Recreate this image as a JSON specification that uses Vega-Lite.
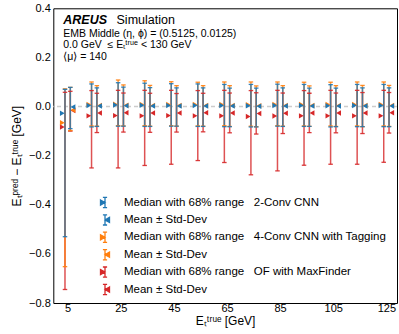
{
  "$schema": "https://vega.github.io/schema/vega-lite/v6.json",
  "width": 343.7,
  "height": 294.7,
  "autosize": {"type": "none"},
  "padding": {"left": 53.3, "top": 8.3, "right": 2, "bottom": 31},
  "background": "white",
  "config": {
    "view": {"stroke": null},
    "font": "Liberation Sans",
    "axis": {
      "domainColor": "black", "tickColor": "black", "labelColor": "black", "titleColor": "black",
      "grid": false, "labelFont": "Liberation Sans", "labelFontSize": 11, "titleFont": "Liberation Sans",
      "titleFontSize": 12, "titleFontWeight": "normal", "domainWidth": 1, "tickWidth": 1,
      "labelOverlap": false, "labelFlush": false, "labelBound": false
    }
  },
  "datasets": {
    "pts": [
      {"m": "r", "s": "med", "x": 4, "y": -0.083, "lo": -0.745, "hi": 0.058},
      {"m": "r", "s": "med", "x": 14, "y": -0.038, "lo": -0.25, "hi": 0.065},
      {"m": "r", "s": "med", "x": 24, "y": -0.037, "lo": -0.25, "hi": 0.066},
      {"m": "r", "s": "med", "x": 34, "y": -0.038, "lo": -0.24, "hi": 0.066},
      {"m": "r", "s": "med", "x": 44, "y": -0.037, "lo": -0.235, "hi": 0.066},
      {"m": "r", "s": "med", "x": 54, "y": -0.038, "lo": -0.22, "hi": 0.065},
      {"m": "r", "s": "med", "x": 64, "y": -0.038, "lo": -0.228, "hi": 0.066},
      {"m": "r", "s": "med", "x": 74, "y": -0.041, "lo": -0.278, "hi": 0.065},
      {"m": "r", "s": "med", "x": 84, "y": -0.039, "lo": -0.262, "hi": 0.066},
      {"m": "r", "s": "med", "x": 94, "y": -0.038, "lo": -0.239, "hi": 0.065},
      {"m": "r", "s": "med", "x": 104, "y": -0.038, "lo": -0.235, "hi": 0.066},
      {"m": "r", "s": "med", "x": 114, "y": -0.038, "lo": -0.235, "hi": 0.066},
      {"m": "r", "s": "med", "x": 124, "y": -0.038, "lo": -0.227, "hi": 0.066},
      {"m": "r", "s": "mean", "x": 6, "y": -0.016, "lo": -0.1, "hi": 0.062},
      {"m": "r", "s": "mean", "x": 16, "y": -0.026, "lo": -0.106, "hi": 0.054},
      {"m": "r", "s": "mean", "x": 26, "y": -0.025, "lo": -0.104, "hi": 0.055},
      {"m": "r", "s": "mean", "x": 36, "y": -0.026, "lo": -0.105, "hi": 0.054},
      {"m": "r", "s": "mean", "x": 46, "y": -0.026, "lo": -0.104, "hi": 0.053},
      {"m": "r", "s": "mean", "x": 56, "y": -0.025, "lo": -0.103, "hi": 0.054},
      {"m": "r", "s": "mean", "x": 66, "y": -0.026, "lo": -0.107, "hi": 0.055},
      {"m": "r", "s": "mean", "x": 76, "y": -0.028, "lo": -0.112, "hi": 0.056},
      {"m": "r", "s": "mean", "x": 86, "y": -0.027, "lo": -0.11, "hi": 0.055},
      {"m": "r", "s": "mean", "x": 96, "y": -0.026, "lo": -0.106, "hi": 0.054},
      {"m": "r", "s": "mean", "x": 106, "y": -0.026, "lo": -0.107, "hi": 0.055},
      {"m": "r", "s": "mean", "x": 116, "y": -0.026, "lo": -0.11, "hi": 0.057},
      {"m": "r", "s": "mean", "x": 126, "y": -0.025, "lo": -0.108, "hi": 0.057},
      {"m": "o", "s": "med", "x": 4, "y": -0.066, "lo": -0.652, "hi": 0.072},
      {"m": "o", "s": "med", "x": 14, "y": 0.008, "lo": -0.079, "hi": 0.1},
      {"m": "o", "s": "med", "x": 24, "y": 0.009, "lo": -0.078, "hi": 0.108},
      {"m": "o", "s": "med", "x": 34, "y": 0.008, "lo": -0.078, "hi": 0.105},
      {"m": "o", "s": "med", "x": 44, "y": 0.008, "lo": -0.078, "hi": 0.101},
      {"m": "o", "s": "med", "x": 54, "y": 0.008, "lo": -0.079, "hi": 0.099},
      {"m": "o", "s": "med", "x": 64, "y": 0.008, "lo": -0.078, "hi": 0.1},
      {"m": "o", "s": "med", "x": 74, "y": 0.007, "lo": -0.08, "hi": 0.1},
      {"m": "o", "s": "med", "x": 84, "y": 0.008, "lo": -0.078, "hi": 0.1},
      {"m": "o", "s": "med", "x": 94, "y": 0.008, "lo": -0.079, "hi": 0.099},
      {"m": "o", "s": "med", "x": 104, "y": 0.008, "lo": -0.079, "hi": 0.099},
      {"m": "o", "s": "med", "x": 114, "y": 0.008, "lo": -0.079, "hi": 0.1},
      {"m": "o", "s": "med", "x": 124, "y": 0.008, "lo": -0.079, "hi": 0.1},
      {"m": "o", "s": "mean", "x": 6, "y": -0.014, "lo": -0.098, "hi": 0.078},
      {"m": "o", "s": "mean", "x": 16, "y": 0.004, "lo": -0.08, "hi": 0.085},
      {"m": "o", "s": "mean", "x": 26, "y": 0.005, "lo": -0.079, "hi": 0.088},
      {"m": "o", "s": "mean", "x": 36, "y": 0.004, "lo": -0.08, "hi": 0.086},
      {"m": "o", "s": "mean", "x": 46, "y": 0.004, "lo": -0.08, "hi": 0.085},
      {"m": "o", "s": "mean", "x": 56, "y": 0.004, "lo": -0.08, "hi": 0.085},
      {"m": "o", "s": "mean", "x": 66, "y": 0.004, "lo": -0.081, "hi": 0.085},
      {"m": "o", "s": "mean", "x": 76, "y": 0.003, "lo": -0.082, "hi": 0.084},
      {"m": "o", "s": "mean", "x": 86, "y": 0.004, "lo": -0.08, "hi": 0.085},
      {"m": "o", "s": "mean", "x": 96, "y": 0.004, "lo": -0.081, "hi": 0.084},
      {"m": "o", "s": "mean", "x": 106, "y": 0.004, "lo": -0.081, "hi": 0.085},
      {"m": "o", "s": "mean", "x": 116, "y": 0.004, "lo": -0.082, "hi": 0.086},
      {"m": "o", "s": "mean", "x": 126, "y": 0.004, "lo": -0.081, "hi": 0.086},
      {"m": "b", "s": "med", "x": 4, "y": -0.027, "lo": -0.53, "hi": 0.07},
      {"m": "b", "s": "med", "x": 14, "y": 0.004, "lo": -0.083, "hi": 0.092},
      {"m": "b", "s": "med", "x": 24, "y": 0.006, "lo": -0.08, "hi": 0.097},
      {"m": "b", "s": "med", "x": 34, "y": 0.005, "lo": -0.081, "hi": 0.095},
      {"m": "b", "s": "med", "x": 44, "y": 0.004, "lo": -0.08, "hi": 0.093},
      {"m": "b", "s": "med", "x": 54, "y": 0.004, "lo": -0.081, "hi": 0.092},
      {"m": "b", "s": "med", "x": 64, "y": 0.004, "lo": -0.082, "hi": 0.09},
      {"m": "b", "s": "med", "x": 74, "y": 0.003, "lo": -0.083, "hi": 0.09},
      {"m": "b", "s": "med", "x": 84, "y": 0.004, "lo": -0.08, "hi": 0.091},
      {"m": "b", "s": "med", "x": 94, "y": 0.004, "lo": -0.081, "hi": 0.09},
      {"m": "b", "s": "med", "x": 104, "y": 0.003, "lo": -0.083, "hi": 0.089},
      {"m": "b", "s": "med", "x": 114, "y": 0.004, "lo": -0.082, "hi": 0.09},
      {"m": "b", "s": "med", "x": 124, "y": 0.004, "lo": -0.082, "hi": 0.09},
      {"m": "b", "s": "mean", "x": 6, "y": -0.002, "lo": -0.09, "hi": 0.078},
      {"m": "b", "s": "mean", "x": 16, "y": 0.002, "lo": -0.081, "hi": 0.076},
      {"m": "b", "s": "mean", "x": 26, "y": 0.003, "lo": -0.08, "hi": 0.079},
      {"m": "b", "s": "mean", "x": 36, "y": 0.002, "lo": -0.081, "hi": 0.077},
      {"m": "b", "s": "mean", "x": 46, "y": 0.002, "lo": -0.08, "hi": 0.076},
      {"m": "b", "s": "mean", "x": 56, "y": 0.002, "lo": -0.081, "hi": 0.076},
      {"m": "b", "s": "mean", "x": 66, "y": 0.002, "lo": -0.082, "hi": 0.075},
      {"m": "b", "s": "mean", "x": 76, "y": 0.001, "lo": -0.083, "hi": 0.075},
      {"m": "b", "s": "mean", "x": 86, "y": 0.002, "lo": -0.081, "hi": 0.076},
      {"m": "b", "s": "mean", "x": 96, "y": 0.002, "lo": -0.081, "hi": 0.075},
      {"m": "b", "s": "mean", "x": 106, "y": 0.002, "lo": -0.082, "hi": 0.075},
      {"m": "b", "s": "mean", "x": 116, "y": 0.002, "lo": -0.082, "hi": 0.076},
      {"m": "b", "s": "mean", "x": 126, "y": 0.002, "lo": -0.082, "hi": 0.076}
    ]
  },
  "layer": [
    {
      "data": {"values": [{}]},
      "mark": {"type": "rule", "color": "#cccccc", "strokeDash": [4, 3], "strokeWidth": 1.5},
      "encoding": {"y": {"datum": 0, "axis": null}}
    },
    {
      "data": {"name": "pts"},
      "mark": {"type": "rule", "strokeWidth": 1.5, "opacity": 0.8},
      "encoding": {
        "x": {
          "field": "x", "type": "quantitative",
          "scale": {"domain": [-0.4, 129], "nice": false, "zero": false},
          "axis": {
            "orient": "bottom",
            "values": [0, 5, 10, 15, 20, 25, 30, 35, 40, 45, 50, 55, 60, 65, 70, 75, 80, 85, 90, 95, 100, 105, 110, 115, 120, 125],
            "format": "d",
            "labelExpr": "(datum.value - 5) % 20 == 0 ? datum.label : ''",
            "tickSize": 0, "labelPadding": -1,
            "title": "Eₜᵗʳᵘᵉ [GeV]", "titlePadding": 2,
            "encode": {"ticks": {"update": {"y2": {"signal": "(datum.value - 5) % 20 == 0 ? -5 : -2.5"}}}}
          }
        },
        "y": {
          "field": "lo", "type": "quantitative",
          "scale": {"domain": [-0.8, 0.4], "nice": false, "zero": false},
          "axis": {
            "orient": "left",
            "values": [-0.8, -0.75, -0.7, -0.65, -0.6, -0.55, -0.5, -0.45, -0.4, -0.35, -0.3, -0.25, -0.2, -0.15, -0.1, -0.05, 0, 0.05, 0.1, 0.15, 0.2, 0.25, 0.3, 0.35, 0.4],
            "format": ".1f",
            "labelExpr": "abs(round(datum.value * 100)) % 20 == 0 ? datum.label : ''",
            "tickSize": 0, "labelPadding": 3,
            "title": "Eₜᵖʳᵉᵈ − Eₜᵗʳᵘᵉ [GeV]", "titlePadding": 5,
            "encode": {"ticks": {"update": {"x2": {"signal": "abs(round(datum.value * 100)) % 20 == 0 ? 5 : 2.5"}}}}
          }
        },
        "y2": {"field": "hi"},
        "color": {"field": "m", "type": "nominal", "scale": {"domain": ["b", "o", "r"], "range": ["#1f77b4", "#ff7f0e", "#d62728"]}, "legend": null}
      }
    },
    {
      "data": {"name": "pts"},
      "mark": {"type": "tick", "orient": "horizontal", "size": 4.5, "thickness": 1.3, "opacity": 0.9},
      "encoding": {
        "x": {"field": "x", "type": "quantitative", "axis": null},
        "y": {"field": "lo", "type": "quantitative", "axis": null},
        "color": {"field": "m", "type": "nominal", "legend": null}
      }
    },
    {
      "data": {"name": "pts"},
      "mark": {"type": "tick", "orient": "horizontal", "size": 4.5, "thickness": 1.3, "opacity": 0.9},
      "encoding": {
        "x": {"field": "x", "type": "quantitative", "axis": null},
        "y": {"field": "hi", "type": "quantitative", "axis": null},
        "color": {"field": "m", "type": "nominal", "legend": null}
      }
    },
    {
      "data": {"name": "pts"},
      "transform": [{"filter": "datum.s == 'med'"}],
      "mark": {"type": "point", "shape": "triangle-right", "filled": true, "size": 30, "xOffset": -2.7, "opacity": 1},
      "encoding": {
        "x": {"field": "x", "type": "quantitative", "axis": null},
        "y": {"field": "y", "type": "quantitative", "axis": null},
        "color": {"field": "m", "type": "nominal", "legend": null}
      }
    },
    {
      "data": {"name": "pts"},
      "transform": [{"filter": "datum.s == 'mean'"}],
      "mark": {"type": "point", "shape": "triangle-left", "filled": true, "size": 30, "xOffset": 2.7, "opacity": 1},
      "encoding": {
        "x": {"field": "x", "type": "quantitative", "axis": null},
        "y": {"field": "y", "type": "quantitative", "axis": null},
        "color": {"field": "m", "type": "nominal", "legend": null}
      }
    },
    {
      "data": {"values": [{}]},
      "mark": {"type": "text", "text": ""},
      "encoding": {
        "x": {"datum": 0, "axis": {"orient": "top", "values": [0, 5, 10, 15, 20, 25, 30, 35, 40, 45, 50, 55, 60, 65, 70, 75, 80, 85, 90, 95, 100, 105, 110, 115, 120, 125], "labels": false, "title": null, "tickSize": 0,
          "encode": {"ticks": {"update": {"y2": {"signal": "(datum.value - 5) % 20 == 0 ? 5 : 2.5"}}}}}},
        "y": {"datum": 0, "axis": {"orient": "right", "values": [-0.8, -0.75, -0.7, -0.65, -0.6, -0.55, -0.5, -0.45, -0.4, -0.35, -0.3, -0.25, -0.2, -0.15, -0.1, -0.05, 0, 0.05, 0.1, 0.15, 0.2, 0.25, 0.3, 0.35, 0.4], "labels": false, "title": null, "tickSize": 0,
          "encode": {"ticks": {"update": {"x2": {"signal": "abs(round(datum.value * 100)) % 20 == 0 ? -5 : -2.5"}}}}}}
      }
    },
    {
      "data": {"values": [{}]},
      "mark": {"type": "text", "text": "AREUS", "font": "Liberation Sans", "fontWeight": "bold", "fontStyle": "italic", "fontSize": 12.5, "align": "left", "baseline": "alphabetic"},
      "encoding": {"x": {"datum": 3.34, "axis": null}, "y": {"datum": 0.335, "axis": null}}
    },
    {
      "data": {"values": [{}]},
      "mark": {"type": "text", "text": "Simulation", "font": "Liberation Sans", "fontSize": 12.5, "align": "left", "baseline": "alphabetic"},
      "encoding": {"x": {"datum": 23.4, "axis": null}, "y": {"datum": 0.335, "axis": null}}
    },
    {
      "data": {"values": [{}]},
      "mark": {"type": "text", "text": "EMB Middle (η, ϕ) = (0.5125, 0.0125)", "font": "Liberation Sans", "fontSize": 10.5, "align": "left", "baseline": "alphabetic"},
      "encoding": {"x": {"datum": 3.34, "axis": null}, "y": {"datum": 0.283, "axis": null}}
    },
    {
      "data": {"values": [{}]},
      "mark": {"type": "text", "text": "0.0 GeV\u00a0\u00a0≤ Eₜᵗʳᵘᵉ < 130 GeV", "font": "Liberation Sans", "fontSize": 10.5, "align": "left", "baseline": "alphabetic"},
      "encoding": {"x": {"datum": 3.34, "axis": null}, "y": {"datum": 0.237, "axis": null}}
    },
    {
      "data": {"values": [{}]},
      "mark": {"type": "text", "text": "⟨μ⟩ = 140", "font": "Liberation Sans", "fontSize": 10.5, "align": "left", "baseline": "alphabetic"},
      "encoding": {"x": {"datum": 3.34, "axis": null}, "y": {"datum": 0.191, "axis": null}}
    },
    {
      "data": {"values": [{"s": "b1"}]},
      "transform": [{"filter": "false"}],
      "mark": {"type": "point", "filled": true, "opacity": 1, "strokeWidth": 1.3},
      "encoding": {
        "fill": {
          "field": "s", "type": "nominal",
          "scale": {"domain": ["b1", "b2", "o1", "o2", "r1", "r2"], "range": ["#1f77b4", "#1f77b4", "#ff7f0e", "#ff7f0e", "#d62728", "#d62728"]},
          "legend": {
            "title": null, "orient": "none", "legendX": 44.7, "legendY": 187.2, "direction": "vertical",
            "symbolSize": 144, "symbolStrokeWidth": 1.3, "labelFont": "Liberation Sans", "labelFontSize": 11.5, "labelColor": "black",
            "labelOffset": 12, "rowPadding": 1.4, "padding": 0, "labelLimit": 400,
            "labelExpr": "datum.value == 'b1' ? 'Median with 68% range\u00a0\u00a0\u00a02-Conv CNN' : datum.value == 'o1' ? 'Median with 68% range\u00a0\u00a0\u00a04-Conv CNN with Tagging' : datum.value == 'r1' ? 'Median with 68% range\u00a0\u00a0\u00a0OF with MaxFinder' : 'Mean ± Std-Dev'"
          }
        },
        "stroke": {
          "field": "s", "type": "nominal",
          "scale": {"domain": ["b1", "b2", "o1", "o2", "r1", "r2"], "range": ["#1f77b4", "#1f77b4", "#ff7f0e", "#ff7f0e", "#d62728", "#d62728"]},
          "legend": {"title": null, "orient": "none", "legendX": 44.7, "legendY": 187.2, "direction": "vertical"}
        },
        "shape": {
          "field": "s", "type": "nominal",
          "scale": {"domain": ["b1", "b2", "o1", "o2", "r1", "r2"], "range": [
            "M-0.75,-0.42L0,0L-0.75,0.42Z M0,-0.85L0,0.85 M-0.35,-0.85L0.35,-0.85 M-0.35,0.85L0.35,0.85",
            "M0.75,-0.42L0,0L0.75,0.42Z M0,-0.85L0,0.85 M-0.35,-0.85L0.35,-0.85 M-0.35,0.85L0.35,0.85",
            "M-0.75,-0.42L0,0L-0.75,0.42Z M0,-0.85L0,0.85 M-0.35,-0.85L0.35,-0.85 M-0.35,0.85L0.35,0.85",
            "M0.75,-0.42L0,0L0.75,0.42Z M0,-0.85L0,0.85 M-0.35,-0.85L0.35,-0.85 M-0.35,0.85L0.35,0.85",
            "M-0.75,-0.42L0,0L-0.75,0.42Z M0,-0.85L0,0.85 M-0.35,-0.85L0.35,-0.85 M-0.35,0.85L0.35,0.85",
            "M0.75,-0.42L0,0L0.75,0.42Z M0,-0.85L0,0.85 M-0.35,-0.85L0.35,-0.85 M-0.35,0.85L0.35,0.85"
          ]},
          "legend": {"title": null, "orient": "none", "legendX": 44.7, "legendY": 187.2, "direction": "vertical"}
        }
      }
    }
  ],
  "resolve": {"axis": {"x": "independent", "y": "independent"}}
}
